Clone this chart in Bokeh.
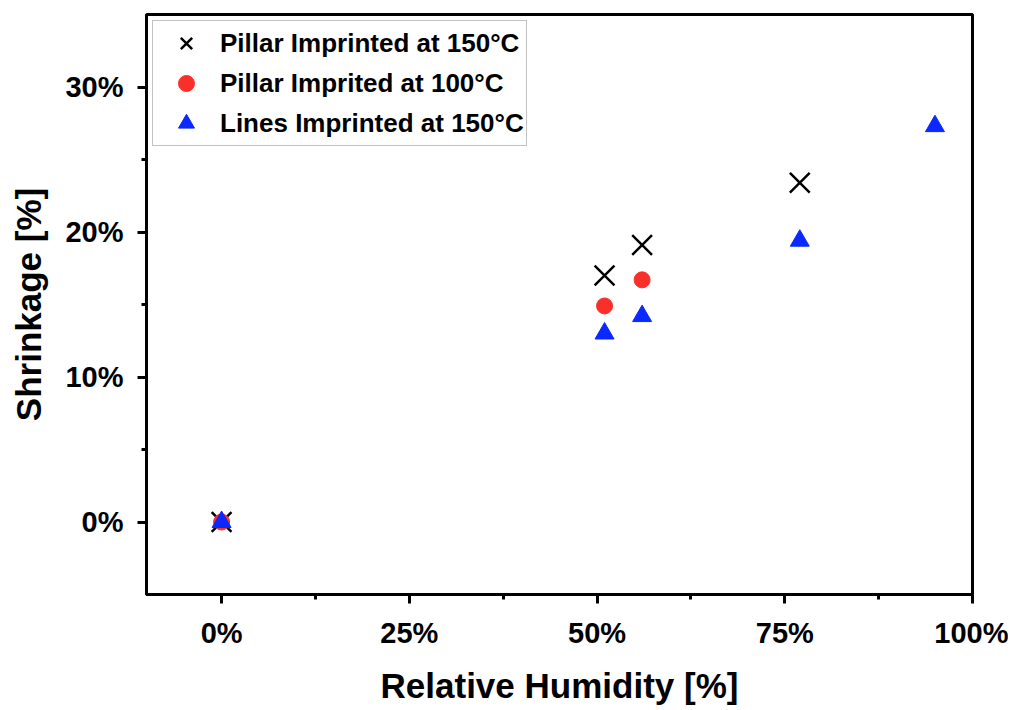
from bokeh.plotting import figure
from bokeh.models import FixedTicker, PrintfTickFormatter, Range1d, Legend, LegendItem
from bokeh.embed import file_html
from bokeh.resources import INLINE

# Data (percent)
x_p150 = [0, 51, 56, 77]
y_p150 = [0, 17.0, 19.1, 23.4]
x_p100 = [0, 51, 56]
y_p100 = [0, 14.9, 16.7]
x_l150 = [0, 51, 56, 77, 95]
y_l150 = [0, 13.0, 14.2, 19.4, 27.3]

x_ticks = [0, 25, 50, 75, 100]
x_minor = [12.5, 37.5, 62.5, 87.5]
y_ticks = [0, 10, 20, 30]
y_minor = [5, 15, 25]

x_title = "Relative Humidity [%]"
y_title = "Shrinkage [%]"
labels = ["Pillar Imprinted at 150°C", "Pillar Imprited at 100°C", "Lines Imprinted at 150°C"]

FONT = "Liberation Sans"

p = figure(output_backend="svg", toolbar_location=None,
           x_range=Range1d(-10, 100), y_range=Range1d(-5, 35),
           min_border_left=146, min_border_right=36, min_border_top=14, min_border_bottom=96)
p.frame_width = 826
p.frame_height = 580
p.grid.visible = False
p.outline_line_color = "black"
p.outline_line_width = 3
p.background_fill_color = "white"
p.border_fill_color = "white"

for ax in (p.xaxis[0], p.yaxis[0]):
    ax.axis_line_width = 3
    ax.major_tick_line_width = 3
    ax.minor_tick_line_width = 3
    ax.major_tick_in = 0
    ax.major_tick_out = 9
    ax.minor_tick_in = 0
    ax.minor_tick_out = 5
    ax.major_label_text_font = FONT
    ax.major_label_text_font_style = "bold"
    ax.major_label_text_font_size = "29px"
    ax.major_label_text_color = "black"
    ax.axis_label_text_font = FONT
    ax.axis_label_text_font_style = "bold"
    ax.axis_label_text_font_size = "35px"
    ax.axis_label_text_color = "black"
    ax.formatter = PrintfTickFormatter(format="%d%%")

p.xaxis[0].ticker = FixedTicker(ticks=x_ticks, minor_ticks=x_minor)
p.yaxis[0].ticker = FixedTicker(ticks=y_ticks, minor_ticks=y_minor)
p.xaxis[0].axis_label = x_title
p.yaxis[0].axis_label = y_title
p.xaxis[0].major_label_standoff = 13
p.yaxis[0].major_label_standoff = 14
p.xaxis[0].axis_label_standoff = 14
p.yaxis[0].axis_label_standoff = 14

r1 = p.scatter(x_p150, y_p150, marker="x", size=28, line_color="black", line_width=2.5)
r2 = p.scatter(x_p100, y_p100, marker="circle", size=16, fill_color="#f9302a", line_color="#f9302a")
r3 = p.scatter(x_l150, y_l150, marker="triangle", size=19, fill_color="#0a28ff", line_color="#0a28ff")

legend = Legend(items=[
    LegendItem(label=labels[0], renderers=[r1]),
    LegendItem(label=labels[1], renderers=[r2]),
    LegendItem(label=labels[2], renderers=[r3]),
], location="top_left")
legend.label_text_font = FONT
legend.label_text_font_style = "bold"
legend.label_text_font_size = "26px"
legend.label_text_color = "black"
legend.border_line_color = "#888888"
legend.border_line_width = 1.5
legend.margin = 6
legend.padding = 2
legend.spacing = 0
legend.glyph_height = 40
legend.glyph_width = 62
legend.label_standoff = 3
legend.label_height = 40
p.add_layout(legend)

open("out.html", "w").write(file_html(p, INLINE))
